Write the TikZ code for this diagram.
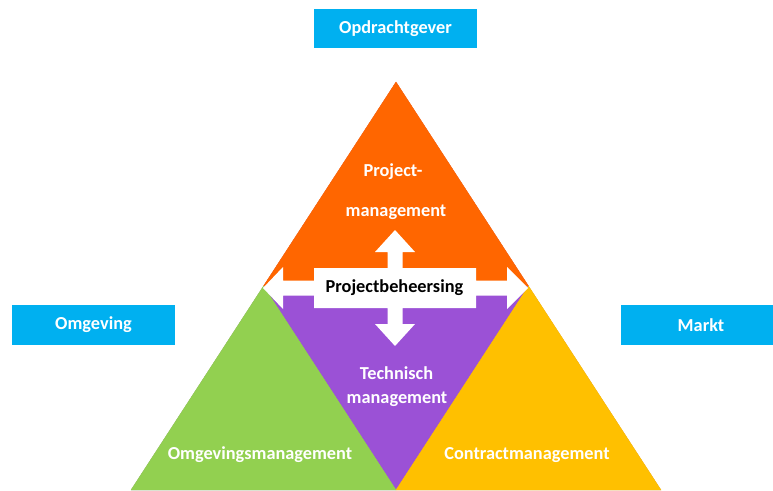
\documentclass[tikz,border=0pt]{standalone}
\usepackage{fontspec}
\setmainfont{Carlito}
\definecolor{skyblue}{HTML}{00B0F0}
\definecolor{triorange}{HTML}{FF6600}
\definecolor{tripurple}{HTML}{9B51D6}
\definecolor{trigreen}{HTML}{92D050}
\definecolor{trigold}{HTML}{FFC000}
\begin{document}
\begin{tikzpicture}[x=1pt,y=-1pt,
  lbl/.style={font=\fontsize{18.3}{20}\selectfont\bfseries, text=white, inner sep=0pt},
  dark/.style={font=\fontsize{18.3}{20}\selectfont\bfseries, text=black, inner sep=0pt},
  bluebox/.style={fill=skyblue, draw=none, inner sep=0pt, font=\fontsize{18.3}{20}\selectfont\bfseries, text=white}]
\useasboundingbox (0,0) rectangle (773,490);
% triangle geometry
\coordinate (A) at (396,82);
\coordinate (BL) at (131,490);
\coordinate (BR) at (661,490);
\coordinate (ML) at (263.5,286);
\coordinate (MR) at (528.5,286);
\coordinate (BM) at (396,490);
\fill[tripurple] (A) -- (BL) -- (BR) -- cycle;
\filldraw[triorange, line width=0.4pt] (A) -- (ML) -- (MR) -- cycle;
\filldraw[trigreen, line width=0.4pt] (ML) -- (BL) -- (BM) -- cycle;
\filldraw[trigold, line width=0.4pt] (MR) -- (BM) -- (BR) -- cycle;
% cross arrow
\fill[white] (263,288) -- (283,267) -- (283,280.5) -- (314,280.5) -- (314,268)
  -- (387.5,268) -- (387.5,252) -- (375,252) -- (395,230) -- (415,252) -- (402.5,252) -- (402.5,268)
  -- (476,268) -- (476,280.5) -- (507,280.5) -- (507,267) -- (528,288) -- (507,309) -- (507,295.5)
  -- (476,295.5) -- (476,308) -- (402.5,308) -- (402.5,324) -- (415,324) -- (395,346) -- (375,324)
  -- (387.5,324) -- (387.5,308) -- (314,308) -- (314,295.5) -- (283,295.5) -- (283,309) -- cycle;
\node[dark] (pb) at (394.5,288) {Projectbeheersing};
% labels in triangles
\node[lbl] (pm1) at (393,172) {Project-};
\node[lbl] (pm2) at (396,212) {management};
\node[lbl] (tm1) at (396.5,373) {Technisch};
\node[lbl] (tm2) at (397,399) {management};
\node[lbl] (om) at (260,455) {Omgevingsmanagement};
\node[lbl] (cm) at (527,455) {Contractmanagement};
% blue boxes
\node[bluebox, minimum width=163pt, minimum height=39pt] (opd) at (395.5,28.5) {Opdrachtgever};
\node[bluebox, minimum width=163pt, minimum height=40pt] (omg) at (93.5,325) {Omgeving};
\fill[skyblue] (621,305) rectangle (773,345);
\node[lbl] (markt) at (701,325) {Markt};
\end{tikzpicture}
\end{document}
